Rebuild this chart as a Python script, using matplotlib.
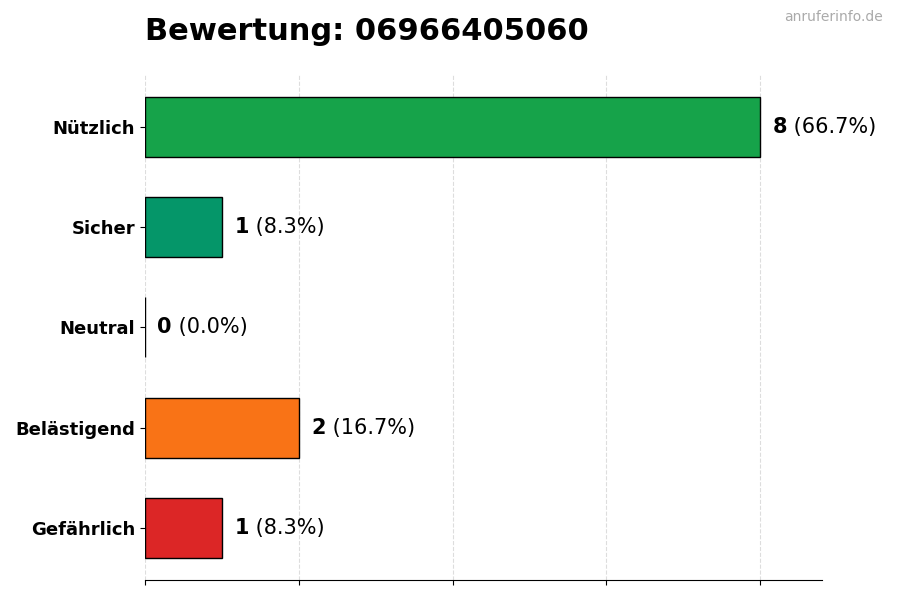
import matplotlib
matplotlib.use("Agg")
import matplotlib.pyplot as plt

categories = ["Nützlich", "Sicher", "Neutral", "Belästigend", "Gefährlich"]
counts = [8, 1, 0, 2, 1]
colors = ["#16a34a", "#059669", "#9ca3af", "#f97316", "#dc2626"]
title = "Bewertung: 06966405060"
watermark = "anruferinfo.de"

total = sum(counts)
fig = plt.figure(figsize=(9, 6), dpi=100)
ax = fig.add_axes([0.161, 0.0333, 0.752, 0.842])

ypos = list(range(len(categories)))[::-1]
ax.barh(ypos, counts, height=0.6, color=colors, edgecolor="black", linewidth=1, zorder=3)

ax.set_xlim(0, max(counts) * 1.1)
ax.set_ylim(-0.52, 4.52)
ax.set_yticks(ypos)
ax.set_yticklabels(categories, fontsize=13, fontweight="bold")
ax.set_xticks([0, 2, 4, 6, 8])
ax.set_xticklabels([])
ax.grid(axis="x", linestyle="--", color="#dddddd", linewidth=0.8, zorder=0)
for s in ["top", "right", "left"]:
    ax.spines[s].set_visible(False)

for y, c in zip(ypos, counts):
    pct = c / total * 100
    t1 = ax.annotate(f"{c}", xy=(c, y), xytext=(9, 0), textcoords="offset points",
                     va="center", ha="left", fontsize=15, fontweight="bold")
    ax.annotate(f" ({pct:.1f}%)", xy=(1, 0.5), xycoords=t1, va="center", ha="left", fontsize=15)

fig.text(0.161, 0.947, title, fontsize=22, fontweight="bold", ha="left", va="center")
fig.text(0.981, 0.971, watermark, fontsize=10, color="#aaaaaa", ha="right", va="center")

fig.savefig("out.png", dpi=100)
